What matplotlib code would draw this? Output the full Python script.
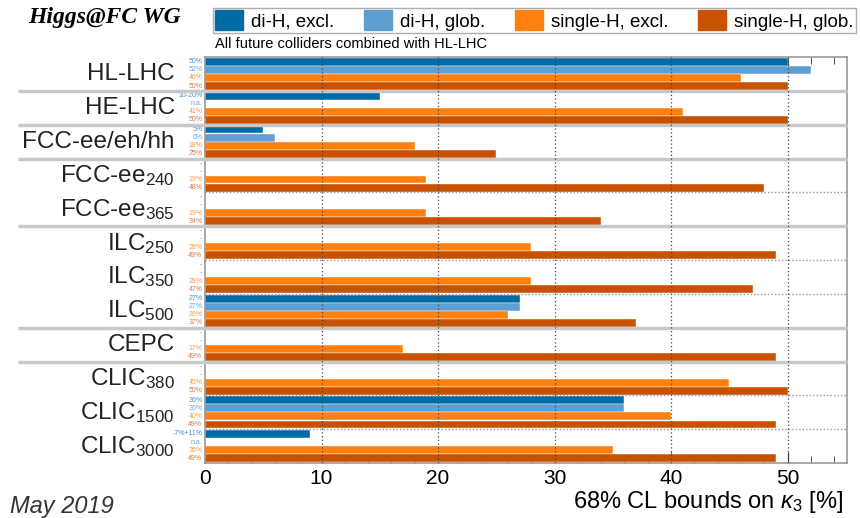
import numpy as np
import matplotlib.pyplot as plt
from matplotlib.patches import Patch
from matplotlib.ticker import MultipleLocator
import matplotlib.transforms as mtransforms

plt.rcParams["font.family"] = ["Liberation Sans", "DejaVu Sans"]
plt.rcParams["mathtext.fontset"] = "custom"
plt.rcParams["mathtext.rm"] = "Liberation Sans"
plt.rcParams["mathtext.it"] = "Liberation Sans:italic"

colliders = ["HL-LHC", "HE-LHC", "FCC-ee/eh/hh", r"FCC-ee$_{\rm 240}$", r"FCC-ee$_{\rm 365}$",
             r"ILC$_{\rm 250}$", r"ILC$_{\rm 350}$", r"ILC$_{\rm 500}$", "CEPC",
             r"CLIC$_{\rm 380}$", r"CLIC$_{\rm 1500}$", r"CLIC$_{\rm 3000}$"]

series = ["di-H, excl.", "di-H, glob.", "single-H, excl.", "single-H, glob."]
colors = ["#006BA4", "#5F9ED1", "#FF800E", "#C85200"]

nan = np.nan
di_h_excl = [50, 15, 5, nan, nan, nan, nan, 27, nan, nan, 36, 9]
di_h_glob = [52, nan, 6, nan, nan, nan, nan, 27, nan, nan, 36, nan]
single_h_excl = [46, 41, 18, 19, 19, 28, 28, 26, 17, 45, 40, 35]
single_h_glob = [50, 50, 25, 48, 34, 49, 47, 37, 49, 50, 49, 49]

lab_di_excl = ["50%", "10-20%", "5%", "-", "-", "-", "-", "27%", "-", "-", "36%", "-7%+11%"]
lab_di_glob = ["52%", "n.a.", "6%", "-", "-", "-", "-", "27%", "-", "-", "36%", "n.a."]
lab_si_excl = ["46%", "41%", "18%", "19%", "19%", "28%", "28%", "26%", "17%", "45%", "40%", "35%"]
lab_si_glob = ["50%", "50%", "25%", "48%", "34%", "49%", "47%", "37%", "49%", "50%", "49%", "49%"]

values = [di_h_excl, di_h_glob, single_h_excl, single_h_glob]
labels = [lab_di_excl, lab_di_glob, lab_si_excl, lab_si_glob]
label_colors = ["#4f8fc8", "#6aa6da", "#f59a4a", "#d9784a"]

solid_after = [1, 2, 3, 5, 8, 9]
dotted_after = [4, 6, 7, 10, 11]

fig = plt.figure(figsize=(8.6, 5.18), dpi=100)
ax = fig.add_axes([0.2384, 0.106, 0.7465, 0.784])
trans = mtransforms.blended_transform_factory(ax.transAxes, ax.transData)

n = len(colliders)
bar_h = 0.235
offsets = [0.14, 0.38, 0.62, 0.86]
for k in range(4):
    y = np.arange(n) + offsets[k]
    ax.barh(y, np.nan_to_num(values[k]), height=bar_h, color=colors[k],
            edgecolor="white", linewidth=0.3, zorder=2)
    for i in range(n):
        ax.text(-0.004, y[i], labels[k][i], transform=trans,
                ha="right", va="center", fontsize=5, color=label_colors[k])

for b in solid_after:
    ax.plot([-0.292, 1.0], [b, b], transform=trans, color="#c8c8c8", lw=2.5,
            clip_on=False, zorder=3, solid_capstyle="butt")
for b in dotted_after:
    ax.plot([0, 1], [b, b], transform=trans, color="#999999", lw=1.0,
            linestyle=(0, (1, 1.5)), zorder=3)

for i, name in enumerate(colliders):
    ax.text(-0.047, i + 0.5, name, transform=trans, ha="right", va="center", fontsize=17.5, color="#222222")

for xv in [10, 20, 30, 40, 50]:
    ax.axvline(xv, color="#444444", lw=0.9, linestyle=(0, (1, 2)), zorder=4)

ax.set_xlim(0, 55.1)
ax.set_ylim(n, 0)
ax.set_yticks([])
ax.xaxis.set_major_locator(MultipleLocator(10))
ax.xaxis.set_minor_locator(MultipleLocator(2))
ax.tick_params(axis="x", which="both", direction="in", top=True, bottom=True, labelsize=15, pad=4)
ax.tick_params(axis="x", which="major", length=8, color="#333333")
ax.tick_params(axis="x", which="minor", length=5, color="#333333")
ax.set_xticks([0, 10, 20, 30, 40, 50])
for s in ax.spines.values():
    s.set_color("#999999")
    s.set_linewidth(1.2)

handles = [Patch(facecolor=c, edgecolor=c) for c in colors]
fig.legend(handles, series, loc="upper left", bbox_to_anchor=(0.2477, 0.985), ncol=4,
           fontsize=13.5, frameon=True, fancybox=False, edgecolor="#999999",
           handlelength=1.5, handleheight=1.3, handletextpad=0.4, columnspacing=1.6,
           borderpad=0.12, borderaxespad=0)

fig.text(28 / 860, 1 - 18 / 518, "Higgs@FC WG", fontsize=17, fontweight="bold", fontstyle="italic",
         family="Liberation Serif", va="center", ha="left")
fig.text(215 / 860, 1 - 44 / 518, "All future colliders combined with HL-LHC", fontsize=10.5,
         va="center", ha="left")
fig.text(10 / 860, 1 - 506 / 518, "May 2019", fontsize=17, fontstyle="italic", va="center", ha="left",
         color="#333333")
fig.text(843 / 860, 1 - 502 / 518, r"68% CL bounds on $\kappa_3$ [%]", fontsize=17, va="center", ha="right")

fig.savefig("out.png", dpi=100)
